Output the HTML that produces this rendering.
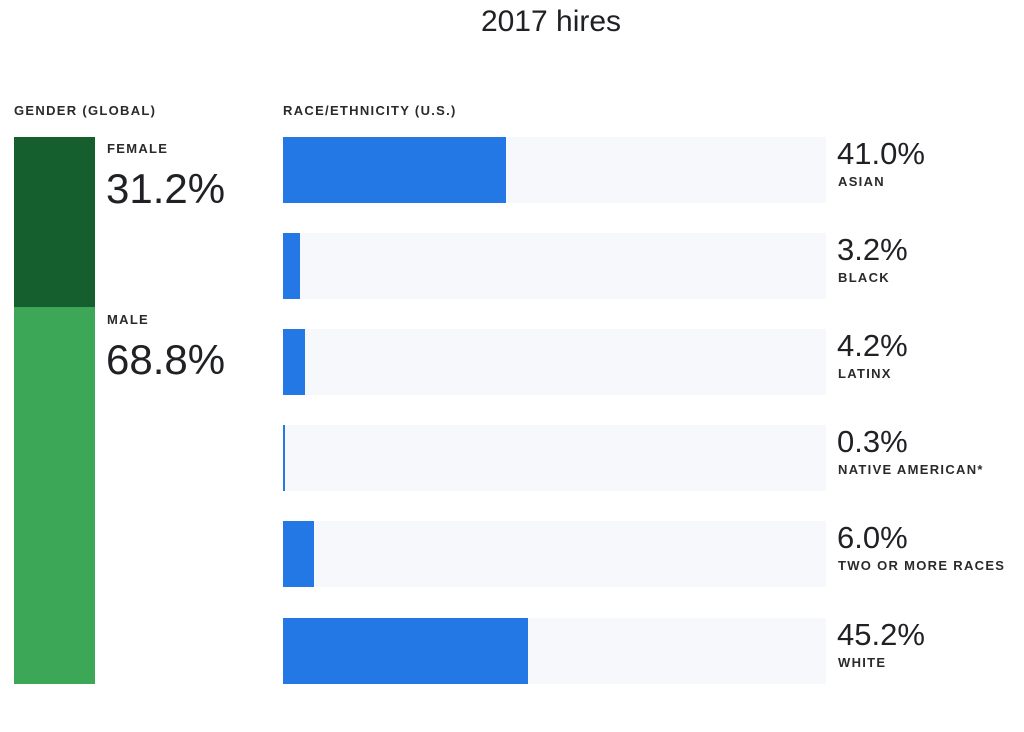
<!DOCTYPE html>
<html><head><style>
body{margin:0;width:1024px;height:732px;background:#fff;position:relative;font-family:"Liberation Sans",sans-serif;color:#202124;overflow:hidden}
div{position:absolute}
.t{font-size:13px;font-weight:bold;letter-spacing:1.3px;color:#2a2a2a;white-space:nowrap}
.big{font-size:42px;white-space:nowrap;line-height:1}
.v{font-size:31px;white-space:nowrap;line-height:1;left:837px}
.bg{left:283px;width:543px;height:66px;background:#f7f8fb}
.b{left:283px;height:66px;background:#2378e6}
.l{left:838px}
</style></head><body>
<div style="left:0;width:1102px;top:5px;text-align:center;font-size:30px">2017 hires</div>
<div class="t" style="left:14px;top:103px">GENDER (GLOBAL)</div>
<div class="t" style="left:283px;top:103px">RACE/ETHNICITY (U.S.)</div>
<div style="left:14px;top:137px;width:81px;height:170px;background:#155f2e"></div>
<div style="left:14px;top:307px;width:81px;height:377px;background:#3ca857"></div>
<div class="t" style="left:107px;top:141px">FEMALE</div>
<div class="big" style="left:106px;top:168px">31.2%</div>
<div class="t" style="left:107px;top:312px">MALE</div>
<div class="big" style="left:106px;top:339px">68.8%</div>

<div class="bg" style="top:137px"></div><div class="b" style="top:137px;width:223px"></div>
<div class="v" style="top:138px">41.0%</div><div class="t l" style="top:174px">ASIAN</div>

<div class="bg" style="top:233px"></div><div class="b" style="top:233px;width:17px"></div>
<div class="v" style="top:234px">3.2%</div><div class="t l" style="top:270px">BLACK</div>

<div class="bg" style="top:329px"></div><div class="b" style="top:329px;width:22px"></div>
<div class="v" style="top:330px">4.2%</div><div class="t l" style="top:366px">LATINX</div>

<div class="bg" style="top:425px"></div><div class="b" style="top:425px;width:2px"></div>
<div class="v" style="top:426px">0.3%</div><div class="t l" style="top:462px">NATIVE AMERICAN*</div>

<div class="bg" style="top:521px"></div><div class="b" style="top:521px;width:31px"></div>
<div class="v" style="top:522px">6.0%</div><div class="t l" style="top:558px">TWO OR MORE RACES</div>

<div class="bg" style="top:618px"></div><div class="b" style="top:618px;width:245px"></div>
<div class="v" style="top:619px">45.2%</div><div class="t l" style="top:655px">WHITE</div>
</body></html>
